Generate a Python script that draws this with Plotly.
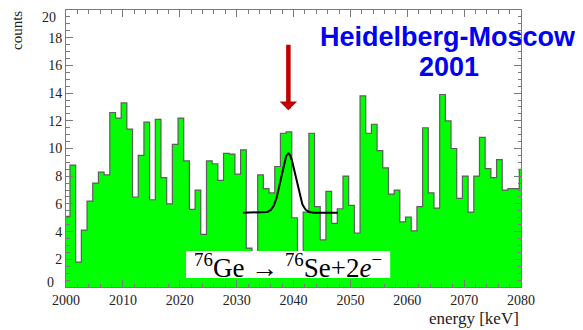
import numpy as np
import plotly.graph_objects as go

# ---- data -------------------------------------------------------------
bin_start = 1999.7          # lower edge of the first (partially visible) bin, keV
bin_width = 1.0             # keV
counts = [5.1, 8.8, 1.8, 4.1, 6.2, 7.5, 8.3, 8.1, 12.6, 12.2,
          13.3, 11.4, 6.5, 9.5, 11.9, 6.3, 12.1, 7.9, 6.0, 10.3,
          12.2, 9.1, 5.6, 7.0, 3.8, 9.1, 8.9, 7.7, 9.65, 9.6,
          8.15, 9.9, 2.8, 1.0, 8.1, 7.1, 6.8, 8.7, 11.1, 11.2,
          5.0, 2.0, 5.4, 11.1, 5.8, 3.4, 6.9, 4.6, 5.65, 8.0,
          5.9, 3.9, 13.8, 11.1, 11.75, 9.85, 8.6, 6.7, 7.0, 4.7,
          5.05, 4.05, 5.8, 11.5, 6.8, 5.7, 13.9, 12.0, 10.0, 6.4,
          8.0, 5.4, 8.0, 10.8, 8.55, 7.9, 9.2, 7.0, 7.1, 7.1,
          8.5]

# Gaussian fit (parameters)
fit_baseline = 5.36
fit_amplitude = 4.28
fit_mean = 2039.1
fit_sigma = 1.25
fit_range = [2031.1, 2047.8]

# arrow marking the Q-value
q_value = 2039.1
arrow_tip = 12.76
arrow_tail = 17.6

x_range = [2000, 2080]
y_range = [0, 20]
x_ticks = [2000, 2010, 2020, 2030, 2040, 2050, 2060, 2070, 2080]
y_ticks = [0, 2, 4, 6, 8, 10, 12, 14, 16, 18, 20]
y_tick_labels = ["", "2", "4", "6", "8", "10", "12", "14", "16", "18", ""]

# ---- derived ------------------------------------------------------------
n = len(counts)
left_edges = [bin_start + i * bin_width for i in range(n)]
centers = [e + bin_width / 2 for e in left_edges]
step_x = left_edges + [left_edges[-1] + bin_width]
step_y = counts + [counts[-1]]

fx = np.linspace(fit_range[0], fit_range[1], 300)
fy = fit_baseline + fit_amplitude * np.exp(-0.5 * ((fx - fit_mean) / fit_sigma) ** 2)

serif = "Liberation Serif, Times New Roman, serif"
sans = "Liberation Sans, Arial, sans-serif"
gray = "#7a7a7a"

# the page body margin (8 px) is compensated in the figure size
PX0, PY0, PW, PH = 66, 10, 455, 277   # plot area in page pixels


def px(x):
    return (x - PX0) / PW


def py(y):
    return (PY0 + PH - y) / PH


fig = go.Figure()
fig.add_trace(go.Bar(x=centers, y=counts, width=bin_width,
                     marker=dict(color="#00FF00", line=dict(width=0)),
                     hoverinfo="skip"))
fig.add_trace(go.Scatter(x=step_x, y=step_y, mode="lines",
                         line=dict(shape="hv", color="#5e5e5e", width=1.2),
                         hoverinfo="skip"))
fig.add_trace(go.Scatter(x=fx, y=fy, mode="lines",
                         line=dict(color="black", width=2), hoverinfo="skip"))

# white label box
fig.add_shape(type="rect", xref="x", yref="y", x0=2021.1, x1=2057.0,
              y0=0.65, y1=2.6, fillcolor="white", line=dict(width=0),
              layer="above")
fig.add_annotation(x=2039.0, y=1.5, xref="x", yref="y",
                   text="<sup>76</sup>Ge\u00a0\u2192\u00a0<sup>76</sup>Se+2<i>e</i><sup>\u2212</sup>",
                   showarrow=False, font=dict(family=serif, size=27, color="black"),
                   xanchor="center", yanchor="middle")

# red arrow
fig.add_annotation(x=q_value, y=arrow_tip, ax=q_value, ay=arrow_tail,
                   xref="x", yref="y", axref="x", ayref="y",
                   text="", showarrow=True, arrowhead=1, arrowsize=0.65,
                   arrowwidth=4.5, arrowcolor="#C00000")

# experiment label
fig.add_annotation(x=px(448), y=py(37), xref="paper", yref="paper",
                   text="<b>Heidelberg-Moscow</b>", showarrow=False,
                   font=dict(family=sans, size=27, color="#0000F0"),
                   xanchor="center", yanchor="middle")
fig.add_annotation(x=px(449), y=py(67), xref="paper", yref="paper",
                   text="<b>2001</b>", showarrow=False,
                   font=dict(family=sans, size=27, color="#0000F0"),
                   xanchor="center", yanchor="middle")

# axis titles
fig.add_annotation(x=px(17), y=py(31), xref="paper", yref="paper",
                   text="counts", textangle=-90, showarrow=False,
                   font=dict(family=serif, size=15, color="#222"),
                   xanchor="center", yanchor="middle")
fig.add_annotation(x=1.0, y=py(318), xref="paper", yref="paper",
                   text="energy [keV]", showarrow=False,
                   font=dict(family=serif, size=17, color="#222"),
                   xanchor="right", yanchor="middle")
# end labels of the y axis placed by hand (the "0" sits off, as in the reference;
# the "20" is kept inside the page)
fig.add_annotation(x=px(50), y=py(282), xref="paper", yref="paper",
                   text="0", showarrow=False,
                   font=dict(family=serif, size=14, color="#222"),
                   xanchor="center", yanchor="middle")
fig.add_annotation(x=px(57), y=py(17), xref="paper", yref="paper",
                   text="20", showarrow=False, borderpad=0,
                   font=dict(family=serif, size=14, color="#222"),
                   xanchor="right", yanchor="middle")

axis_common = dict(showline=True, linecolor=gray, linewidth=1, mirror="ticks",
                   ticks="inside", tickcolor=gray, showgrid=False, zeroline=False,
                   tickfont=dict(family=serif, size=14, color="#222"))
fig.update_xaxes(range=x_range, tickvals=x_ticks, ticklen=7,
                 minor=dict(dtick=2, ticklen=3.5, ticks="inside", tickcolor=gray, showgrid=False),
                 **axis_common)
fig.update_yaxes(range=y_range, tickvals=y_ticks, ticktext=y_tick_labels, ticklen=7,
                 minor=dict(dtick=0.5, ticklen=3.5, ticks="inside", tickcolor=gray, showgrid=False),
                 **axis_common)

fig.update_layout(width=575, height=322, margin=dict(l=58, r=62, t=2, b=43),
                  paper_bgcolor="white", plot_bgcolor="white", bargap=0,
                  showlegend=False)

fig.write_html("out.html")
